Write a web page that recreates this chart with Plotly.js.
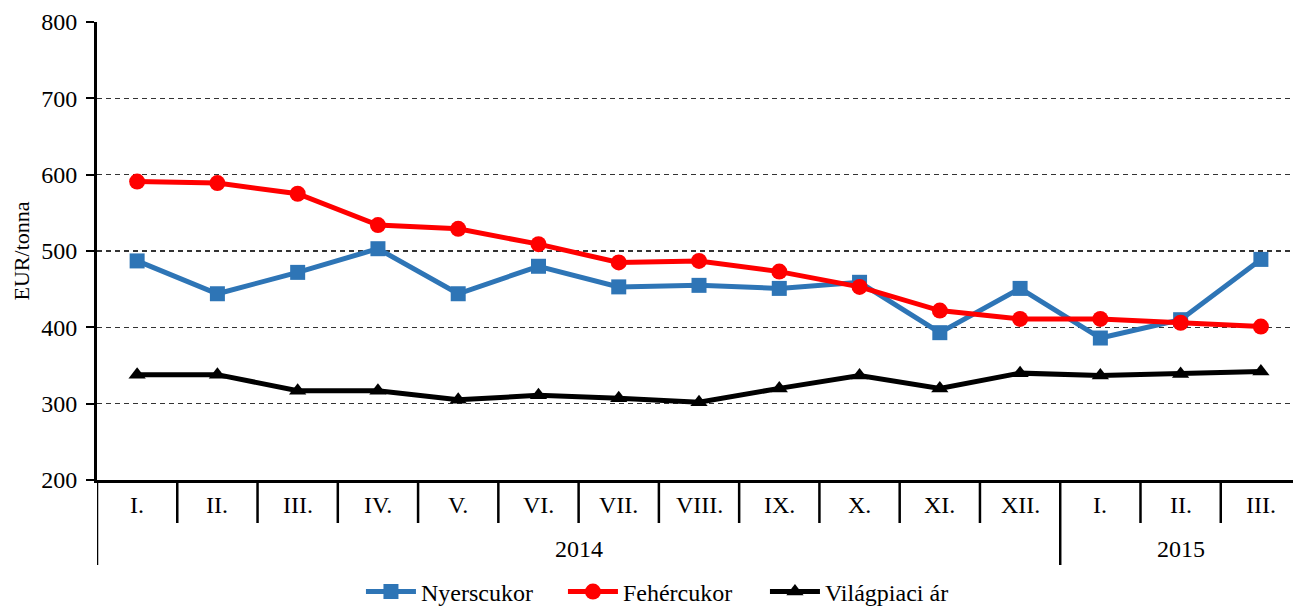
<!DOCTYPE html>
<html>
<head>
<meta charset="utf-8">
<script src="https://cdn.plot.ly/plotly-3.0.1.min.js"></script>
<style>html,body{margin:0;padding:0;background:#fff;}#chart{width:1293px;height:610px;}</style>
</head>
<body>
<div id="chart"></div>
<script>
var years = ["2014","2014","2014","2014","2014","2014","2014","2014","2014","2014","2014","2014","2015","2015","2015"];
var months = ["I.","II.","III.","IV.","V.","VI.","VII.","VIII.","IX.","X.","XI.","XII.","I.","II.","III."];
var nyerscukor = [487, 444, 472, 503, 444, 480, 453, 455, 451, 459, 393, 451, 386, 410, 489];
var fehercukor = [591, 589, 575, 534, 529, 509, 485, 487, 473, 453, 422, 411, 411, 406, 401];
var vilagpiaci = [338, 338, 317, 317, 305, 311, 307, 302, 320, 337, 320, 340, 337, 339, 342];

var FAM = "'Liberation Serif', 'Times New Roman', serif";
var font = {family: FAM, size: 24, color: "#000"};
var idx = months.map(function (m, i) { return i; });

var traces = [
  {x: idx, y: nyerscukor, name: "Nyerscukor", type: "scatter", mode: "lines+markers",
   line: {color: "#2E75B6", width: 5}, marker: {symbol: "square", size: 15, color: "#2E75B6"}},
  {x: idx, y: fehercukor, name: "Fehércukor", type: "scatter", mode: "lines+markers",
   line: {color: "#FF0000", width: 5}, marker: {symbol: "circle", size: 16, color: "#FF0000"}},
  {x: idx, y: vilagpiaci, name: "Világpiaci ár", type: "scatter", mode: "lines+markers",
   line: {color: "#000000", width: 5}, marker: {symbol: "triangle-up", size: 15, color: "#000000"}}
];

// category boundary ticks and year group dividers / labels
var plotH = 610 - 22 - 130;
var tickBottom = -43 / plotH;
var divBottom = -85 / plotH;
var shapes = [];
var annotations = [];
for (var i = 0; i <= months.length; i++) {
  var isGroupStart = (i === 0) || (i < years.length && years[i] !== years[i - 1]);
  shapes.push({type: "line", xref: "x", yref: "paper", x0: i - 0.5, x1: i - 0.5,
               y0: 0, y1: isGroupStart ? divBottom : tickBottom,
               line: {color: "#000", width: 2.5}});
}
var groups = [];
years.forEach(function (y, i) {
  if (!groups.length || groups[groups.length - 1].name !== y) groups.push({name: y, first: i, last: i});
  else groups[groups.length - 1].last = i;
});
groups.forEach(function (g) {
  annotations.push({xref: "x", yref: "paper", x: (g.first + g.last) / 2, y: -69 / plotH,
                    text: g.name, showarrow: false, xanchor: "center", yanchor: "middle",
                    font: font});
});
months.forEach(function (m, i) {
  annotations.push({xref: "x", yref: "paper", x: i, y: -25 / plotH,
                    text: m, showarrow: false, xanchor: "center", yanchor: "middle",
                    font: font});
});

var layout = {
  width: 1293, height: 610,
  margin: {l: 97, r: 0, t: 22, b: 130, autoexpand: false},
  paper_bgcolor: "#fff", plot_bgcolor: "#fff",
  font: font,
  showlegend: true,
  legend: {orientation: "h", xref: "container", x: 0.5135, xanchor: "center",
           y: -112 / plotH, yanchor: "middle",
           font: font, entrywidth: 137, entrywidthmode: "pixels", itemwidth: 50},
  xaxis: {range: [-0.5, 14.4], showgrid: false, zeroline: false, automargin: false,
          showline: true, linecolor: "#000", linewidth: 3,
          showticklabels: false, ticks: ""},
  yaxis: {range: [200, 800], dtick: 100, tick0: 200, automargin: false,
          showgrid: true, gridcolor: "#333", griddash: "5px,4px", gridwidth: 1.4,
          showline: true, linecolor: "#000", linewidth: 3,
          ticks: "outside", ticklen: 8, tickwidth: 2, tickcolor: "#000",
          ticklabelstandoff: 4,
          tickfont: font, zeroline: false,
          title: {text: "EUR/tonna", font: {family: FAM, size: 22, color: "#000"}, standoff: 6}},
  shapes: shapes,
  annotations: annotations
};

Plotly.newPlot("chart", traces, layout, {displayModeBar: false, staticPlot: true});
</script>
</body>
</html>
